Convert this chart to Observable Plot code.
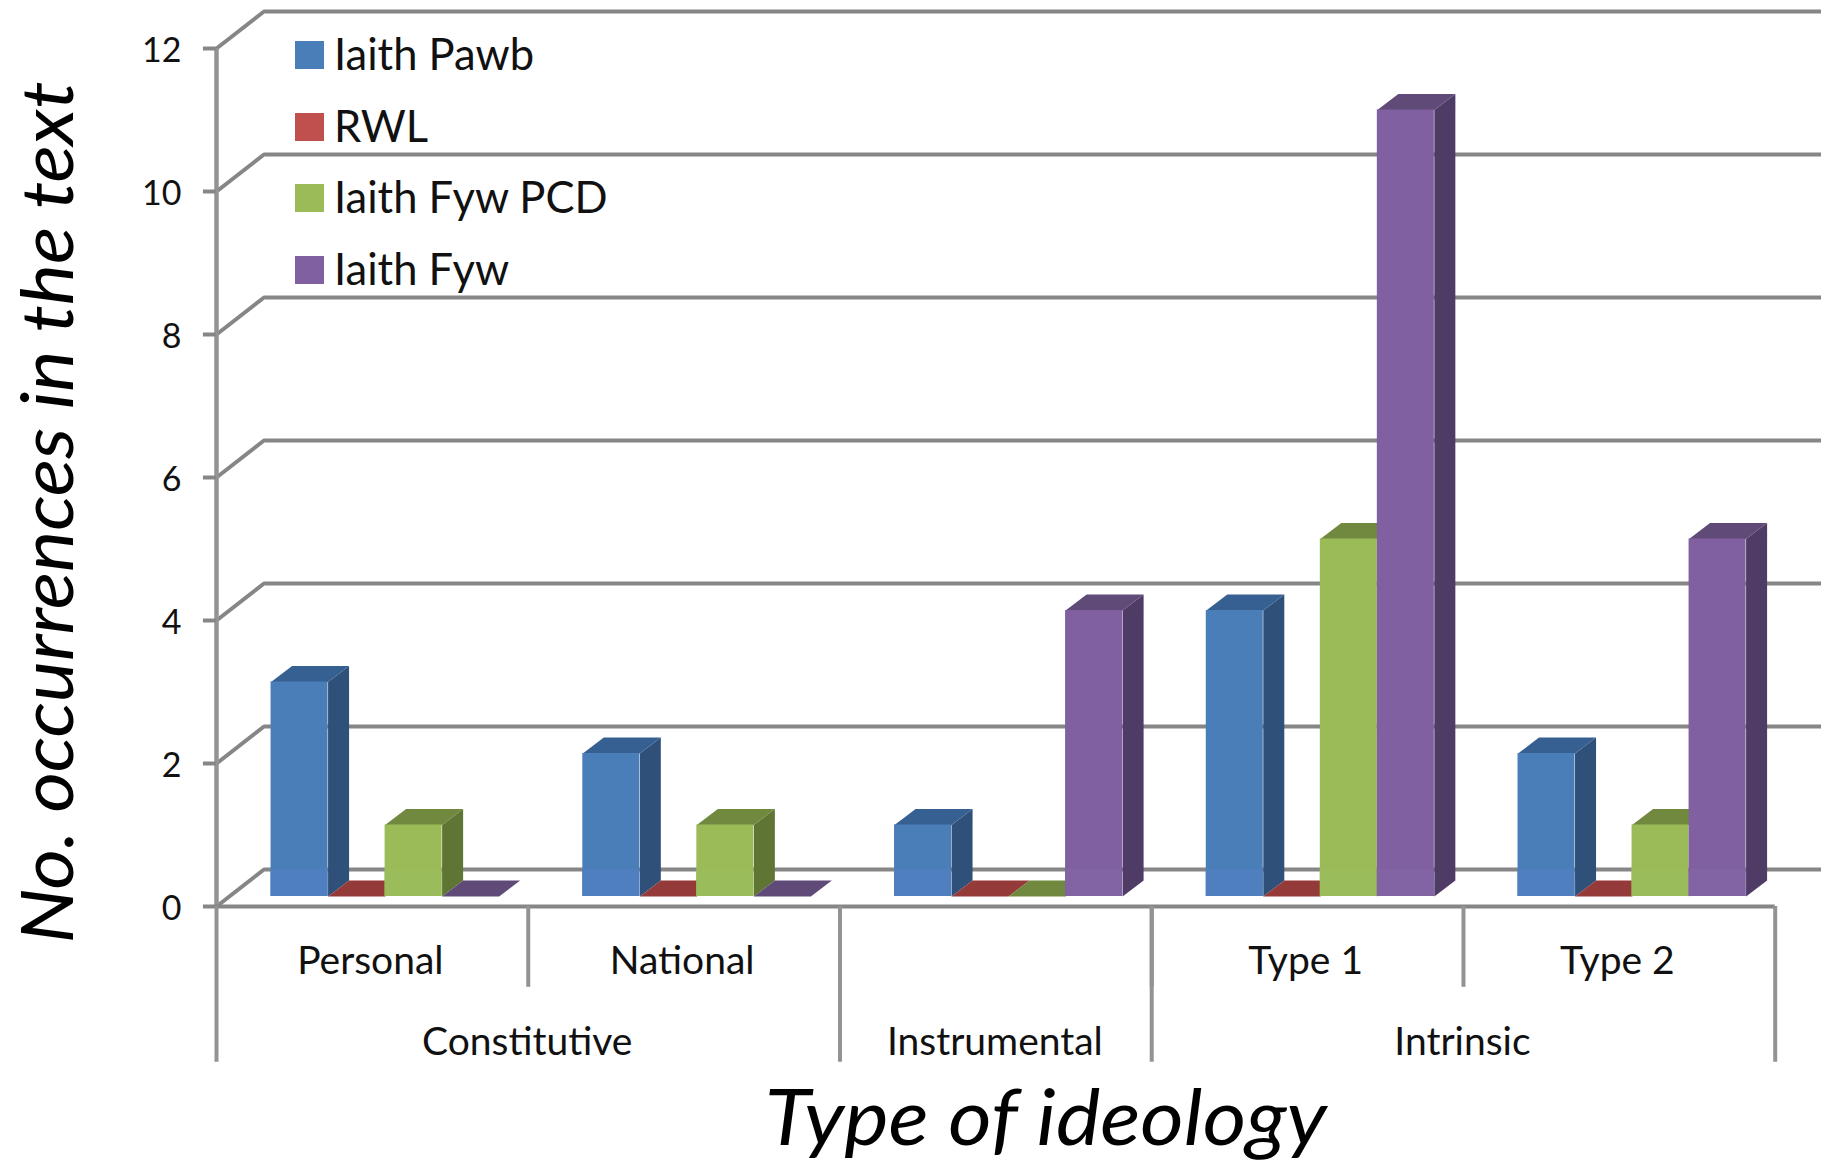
<!DOCTYPE html>
<html>
<head>
<meta charset="utf-8">
<script src="https://cdn.jsdelivr.net/npm/d3@7"></script>
<script src="https://cdn.jsdelivr.net/npm/@observablehq/plot@0.6"></script>
<style>
  html, body { margin: 0; background: #fff; }
  #chart { position: relative; width: 1821px; height: 1165px; overflow: hidden; }
  #legend { position: absolute; left: 295px; top: 0; font: 43.5px Lato, sans-serif; color: #111; }
  #legend div { position: absolute; white-space: nowrap; height: 72px; line-height: 72px; }
  #legend i { position: absolute; left: 0; top: 22px; width: 29px; height: 28px; }
  #legend span { position: absolute; left: 39px; top: -2px; }
</style>
</head>
<body>
<div id="chart"><div id="legend"></div></div>
<script>
// Occurrence counts per ideology type
const categories = ["Personal", "National", "", "Type 1", "Type 2"];
const groups = [
  {name: "Constitutive", from: 0, to: 2},
  {name: "Instrumental", from: 2, to: 3},
  {name: "Intrinsic", from: 3, to: 5}
];
const seriesNames = ["Iaith Pawb", "RWL", "Iaith Fyw PCD", "Iaith Fyw"];
const iaithPawb = [3, 2, 1, 4, 2];
const rwl = [0, 0, 0, 0, 0];
const iaithFywPcd = [1, 1, 0, 5, 1];
const iaithFyw = [0, 0, 4, 11, 5];
const seriesValues = [iaithPawb, rwl, iaithFywPcd, iaithFyw];

const yTicks = [0, 2, 4, 6, 8, 10, 12];
const frontColors = ["#4a7eb8", "#c0504d", "#9bbb59", "#8060a0"];
const floorColors = ["#4f7fbf", "#c0504d", "#9bbc5a", "#8263a3"];
const topColors = ["#376092", "#943a38", "#71893f", "#5f4a78"];
const sideColors = ["#2f5079", "#7d2f2d", "#5f7533", "#4f3c66"];

const yTitle = "No. occurrences in the text";
const xTitle = "Type of ideology";

// Pseudo-3D geometry, in scale units (categories across, counts up)
const wallDx = 0.1524, wallDy = 0.5175;   // floor depth, front axis to back wall
const barDx = 0.0674, barDy = 0.224;      // depth of a bar
const barLift = 0.14;                     // bar bases sit slightly behind the front axis
const barStart = 0.175, barWidth = 0.1829;
const tickShort = -1.13, tickLong = -2.18, tickOut = -0.042;

const gridColor = "#868686", axisColor = "#939393";

// Back wall gridlines with their diagonals down to the front axis
const gridPath = yTicks.flatMap(t => [
  {t, x: 0, y: t},
  {t, x: wallDx, y: t + wallDy},
  {t, x: 5 + wallDx, y: t + wallDy}
]);

const bars = seriesValues.map((values, s) => values.map((v, c) => {
  const x1 = c + barStart + s * barWidth;
  return {c, s, v, x1, x2: x1 + barWidth, y1: barLift, y2: v + barLift};
}));

const sideFaces = list => list.filter(b => b.v > 0).flatMap(b => [
  {id: b.c, x: b.x2, y: b.y1},
  {id: b.c, x: b.x2 + barDx, y: b.y1 + barDy},
  {id: b.c, x: b.x2 + barDx, y: b.y2 + barDy},
  {id: b.c, x: b.x2, y: b.y2}
]);
const topFaces = list => list.flatMap(b => [
  {id: b.c, x: b.x1, y: b.y2},
  {id: b.c, x: b.x1 + barDx, y: b.y2 + barDy},
  {id: b.c, x: b.x2 + barDx, y: b.y2 + barDy},
  {id: b.c, x: b.x2, y: b.y2}
]);

const barMarks = bars.flatMap((list, s) => {
  const standing = list.filter(b => b.v > 0);
  return [
    Plot.line(sideFaces(list), {x: "x", y: "y", z: "id", fill: sideColors[s], stroke: "none"}),
    Plot.line(topFaces(list), {x: "x", y: "y", z: "id", fill: topColors[s], stroke: "none"}),
    Plot.rect(standing, {x1: "x1", x2: "x2", y1: "y1", y2: "y2", fill: frontColors[s]}),
    // the part of each bar standing in front of the floor is a shade lighter
    Plot.rect(standing, {x1: "x1", x2: "x2", y1: "y1", y2: wallDy, fill: floorColors[s]})
  ];
});

const textFont = "Lato, sans-serif";

const plot = Plot.plot({
  width: 1821,
  height: 1165,
  marginLeft: 216,
  marginRight: 46.3,
  marginTop: 48,
  marginBottom: 259,
  style: {background: "#fff"},
  x: {type: "linear", domain: [0, 5], axis: null},
  y: {type: "linear", domain: [0, 12], axis: null},
  marks: [
    Plot.line(gridPath, {x: "x", y: "y", z: "t", stroke: gridColor, strokeWidth: 4, strokeLinejoin: "miter"}),
    // value axis
    Plot.ruleX([0], {y1: 0, y2: 12, stroke: axisColor, strokeWidth: 4.5}),
    Plot.ruleY(yTicks, {x1: tickOut, x2: 0, stroke: gridColor, strokeWidth: 4}),
    Plot.axisY({
      ticks: yTicks, tickSize: 0, tickPadding: 35, fill: "#111",
      fontSize: 34, fontFamily: textFont, label: null, dy: 3
    }),
    // category axis with its two tiers of separators
    Plot.ruleY([0], {x1: 0, x2: 5, stroke: gridColor, strokeWidth: 4}),
    Plot.ruleX([1, 3, 4], {y1: 0, y2: tickShort, stroke: axisColor, strokeWidth: 4}),
    Plot.ruleX([0, 2, 3, 5], {y1: 0, y2: tickLong, stroke: axisColor, strokeWidth: 4}),
    ...barMarks,
    Plot.text(categories, {
      x: (d, i) => i + 0.5, frameAnchor: "bottom", dx: -2, dy: 67,
      text: d => d, fontSize: 39, fontFamily: textFont, fill: "#111"
    }),
    Plot.text(groups, {
      x: d => (d.from + d.to) / 2, frameAnchor: "bottom", dx: -1, dy: 148,
      text: "name", fontSize: 39, fontFamily: textFont, fill: "#111"
    }),
    Plot.text([xTitle], {
      x: 2.66, frameAnchor: "bottom", dy: 238,
      lineAnchor: "bottom", fontSize: 78, fontStyle: "italic", fontFamily: textFont, fill: "#000"
    }),
    Plot.text([yTitle], {
      frameAnchor: "left", textAnchor: "middle", rotate: -90, dx: -167, dy: 35,
      fontSize: 72, fontStyle: "italic", fontFamily: textFont, fill: "#000"
    })
  ]
});
document.getElementById("chart").prepend(plot);

// Both axis titles run longer than their natural width
const stretchTitle = (title, length) => d3.select(plot).selectAll("text")
  .filter(function () { return this.textContent === title; })
  .attr("textLength", length)
  .attr("lengthAdjust", "spacingAndGlyphs");
stretchTitle(yTitle, 862);
stretchTitle(xTitle, 562);

// Legend entries sit inside the plot area, over the back wall
const legend = d3.select("#legend");
const rows = legend.selectAll("div").data(seriesNames).join("div")
  .style("top", (d, i) => `${19 + i * 71.7}px`);
rows.append("i").style("background", (d, i) => frontColors[i]);
rows.append("span").text(d => d);
</script>
</body>
</html>
